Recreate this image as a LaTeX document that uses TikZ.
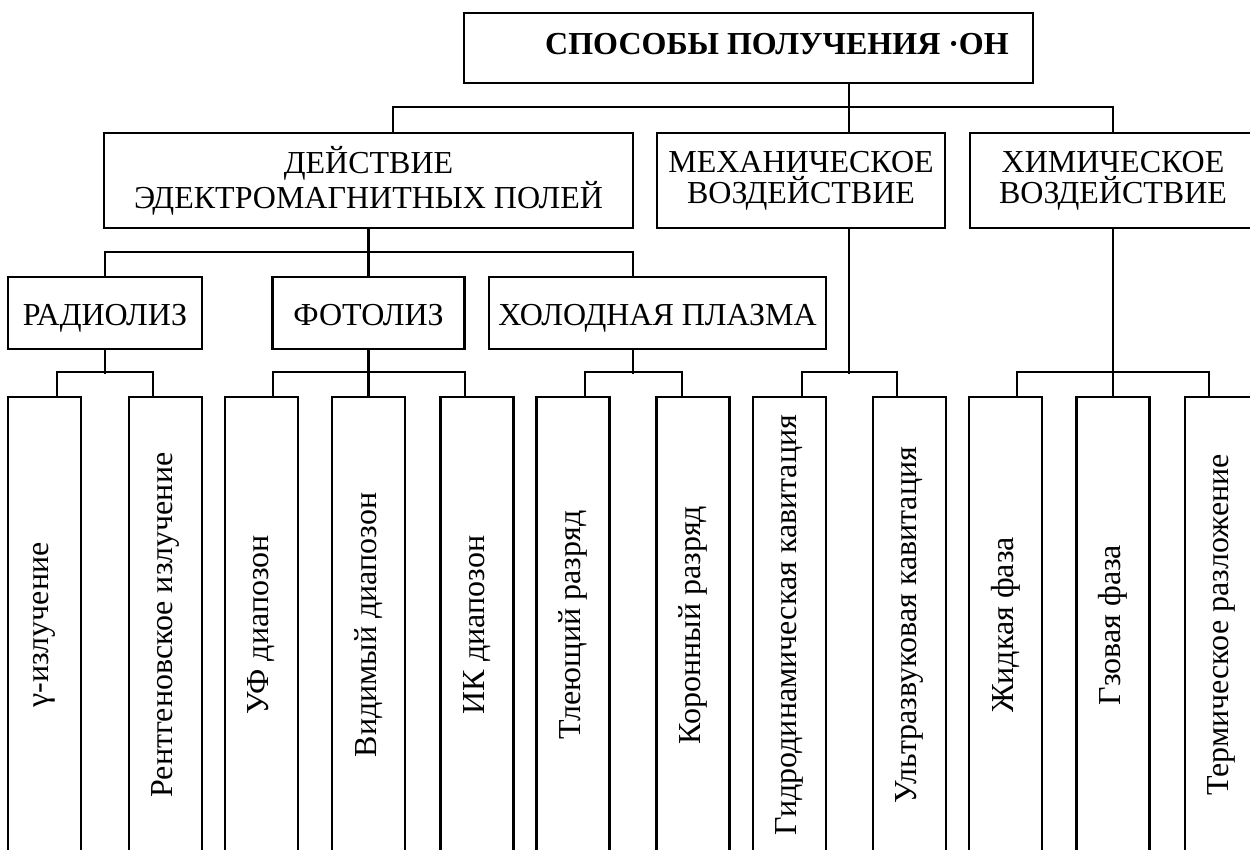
\documentclass[tikz,border=0pt]{standalone}
\usepackage{fontspec}
\setmainfont{Liberation Serif}
\usepackage{tikz}
\usetikzlibrary{positioning, calc}

\tikzset{
    rootbox/.style={draw, line width=2.2pt, inner sep=0pt, minimum width=569pt, minimum height=70pt, text height=22pt, text depth=8pt, font=\fontsize{32}{31}\selectfont\bfseries},
    groupbox/.style={draw, line width=2.2pt, inner sep=0pt, minimum height=95pt, align=center, font=\fontsize{32}{31}\selectfont},
    methodbox/.style={draw, line width=2.2pt, inner sep=0pt, minimum height=72pt, text height=30pt, text depth=4pt, font=\fontsize{32}{31}\selectfont},
    leafbox/.style={draw, line width=2.2pt, inner sep=0pt, minimum width=73pt, minimum height=456pt, font=\fontsize{32}{31}\selectfont},
    link/.style={line width=2.2pt}
}

\begin{document}
\begin{tikzpicture}[x=1pt, y=-1pt]
        \useasboundingbox (0,0) rectangle (1250,850);
        \clip (0,0) rectangle (1250,850);
        \node[rootbox] (title) at (748.5,48) {\hspace*{57pt}СПОСОБЫ ПОЛУЧЕНИЯ ·ОН};
        \node[groupbox, minimum width=529pt] (deist) at (368.5,180.5) {ДЕЙСТВИЕ\\ЭДЕКТРОМАГНИТНЫХ ПОЛЕЙ};
        \node[groupbox, minimum width=288pt] (mekh) at (801,180.5) {МЕХАНИЧЕСКОЕ\\ВОЗДЕЙСТВИЕ};
        \node[groupbox, minimum width=286pt] (khim) at (1113,180.5) {ХИМИЧЕСКОЕ\\ВОЗДЕЙСТВИЕ};
        \node[methodbox, minimum width=194pt] (radioliz) at (105,313) {РАДИОЛИЗ};
        \node[methodbox, minimum width=192pt] (fotoliz) at (368.5,313) {ФОТОЛИЗ};
        \node[methodbox, minimum width=337pt] (plazma) at (657.5,313) {ХОЛОДНАЯ ПЛАЗМА};
        \node[leafbox] (gamma) at (44.5,625) {\rotatebox{90}{γ-излучение}};
        \node[leafbox] (rentgen) at (165.5,625) {\rotatebox{90}{Рентгеновское излучение}};
        \node[leafbox] (uf) at (261.5,625) {\rotatebox{90}{УФ диапозон}};
        \node[leafbox] (vidim) at (368.5,625) {\rotatebox{90}{Видимый диапозон}};
        \node[leafbox] (ik) at (477,625) {\rotatebox{90}{ИК диапозон}};
        \node[leafbox] (tlej) at (573,625) {\rotatebox{90}{Тлеющий разряд}};
        \node[leafbox] (koron) at (693,625) {\rotatebox{90}{Коронный разряд}};
        \node[leafbox] (gidro) at (789.5,625) {\rotatebox{90}{Гидродинамическая кавитация}};
        \node[leafbox] (ultra) at (909.5,625) {\rotatebox{90}{Ультразвуковая кавитация}};
        \node[leafbox] (zhid) at (1005.5,625) {\rotatebox{90}{Жидкая фаза}};
        \node[leafbox] (gzov) at (1113,625) {\rotatebox{90}{Гзовая фаза}};
        \node[leafbox] (term) at (1221.5,625) {\rotatebox{90}{Термическое разложение}};
        \draw[link] ([xshift=100.5pt]title.south) -- ([xshift=48pt]mekh.north);
        \draw[link] ([xshift=24.5pt]deist.north) -- ++(0,25pt) -| (khim.north);
        \draw[link] (deist.south) -- (fotoliz.north);
        \draw[link] (radioliz.north) -- ++(0,24pt) -| ([xshift=-24.5pt]plazma.north);
        \draw[link] (radioliz.south) -- ++(0,-24pt);
        \draw[link] ([xshift=12.5pt]gamma.north) -- ++(0,24pt) -| ([xshift=-12.5pt]rentgen.north);
        \draw[link] (fotoliz.south) -- (vidim.north);
        \draw[link] ([xshift=11.5pt]uf.north) -- ++(0,24pt) -| ([xshift=-12pt]ik.north);
        \draw[link] ([xshift=-24.5pt]plazma.south) -- ++(0,-24pt);
        \draw[link] ([xshift=12pt]tlej.north) -- ++(0,24pt) -| ([xshift=-11pt]koron.north);
        \draw[link] ([xshift=48pt]mekh.south) -- ++(0,-145pt);
        \draw[link] ([xshift=12.5pt]gidro.north) -- ++(0,24pt) -| ([xshift=-12.5pt]ultra.north);
        \draw[link] (khim.south) -- (gzov.north);
        \draw[link] ([xshift=11.5pt]zhid.north) -- ++(0,24pt) -| ([xshift=-12.5pt]term.north);
    \end{tikzpicture}
\end{document}
